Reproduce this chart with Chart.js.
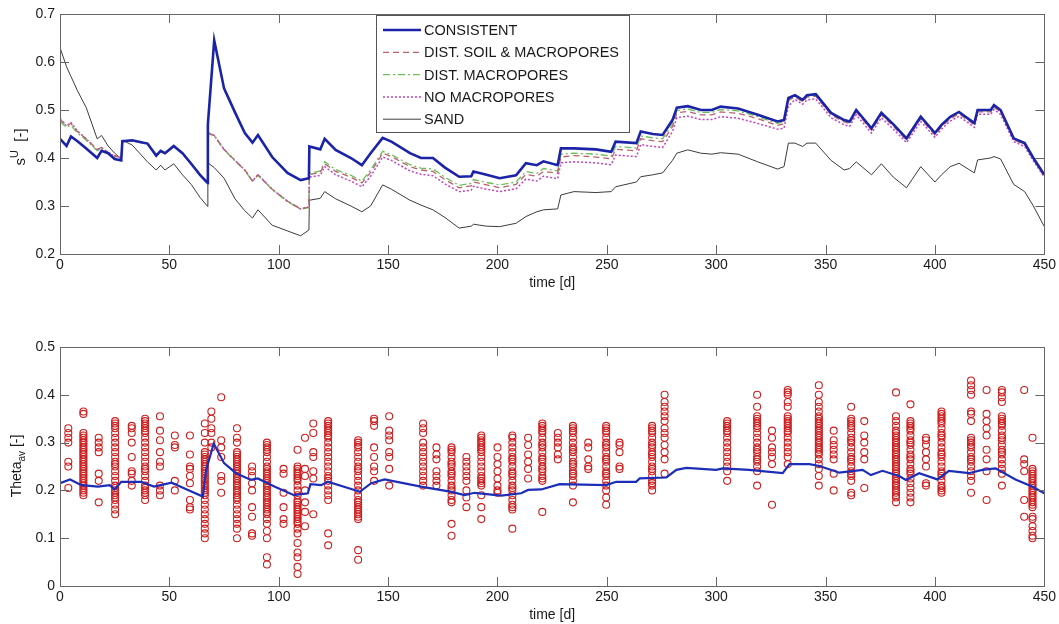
<!DOCTYPE html>
<html>
<head>
<meta charset="utf-8">
<title>Saturation and theta over time</title>
<script src="https://cdn.jsdelivr.net/npm/chart.js@4.4.1/dist/chart.umd.min.js"></script>
<style>
    html, body { margin: 0; padding: 0; background: #fff; }
    #wrap { position: relative; width: 1059px; height: 624px; }
    #top-chart { position: absolute; left: 0; top: 0; }
    #bottom-chart { position: absolute; left: 0; top: 300px; }
</style>
</head>
<body>
<div id="wrap">
    <canvas id="top-chart" width="1059" height="300"></canvas>
    <canvas id="bottom-chart" width="1059" height="324"></canvas>
</div>
<script>
// ---- top panel: s^U per scenario, all on the same day grid ----
const days = [
    0, 3, 5, 8, 12, 17, 19, 22, 25, 28,
    28.5, 33, 40, 44, 46, 48, 52, 56, 60, 64,
    67.5, 67.6, 70.5, 75, 80, 84.5, 88, 90.5, 97, 104,
    110, 113.8, 114, 119, 121, 126, 133, 138, 142, 147.5,
    151.5, 160, 165, 170.5, 176, 182.5, 188, 189, 195, 201,
    208.5, 213, 218, 221, 227.5, 229, 235, 245, 252, 254,
    263.5, 265.5, 271, 275.5, 280, 282, 287, 293, 298, 302,
    310, 319, 328, 331, 333, 336, 339.5, 341.5, 345.5, 352.5,
    358.5, 361, 364, 371, 375.5, 381, 387, 393.5, 400, 403,
    407, 411, 418, 419.5, 425.5, 427, 430, 436, 441, 445,
    450
];
const consistent = [
    0.440, 0.425, 0.445, 0.435, 0.420, 0.400, 0.415, 0.410, 0.398, 0.395,
    0.435, 0.437, 0.430, 0.405, 0.415, 0.410, 0.425, 0.410, 0.388, 0.365,
    0.348, 0.470, 0.645, 0.545, 0.495, 0.452, 0.432, 0.448, 0.402, 0.369,
    0.354, 0.358, 0.424, 0.418, 0.440, 0.417, 0.400, 0.385, 0.410, 0.442,
    0.434, 0.410, 0.400, 0.400, 0.380, 0.361, 0.362, 0.372, 0.365, 0.358,
    0.364, 0.389, 0.385, 0.393, 0.385, 0.420, 0.420, 0.418, 0.413, 0.434,
    0.431, 0.455, 0.450, 0.448, 0.479, 0.505, 0.508, 0.500, 0.500, 0.507,
    0.503, 0.490, 0.476, 0.479, 0.525, 0.531, 0.521, 0.531, 0.533, 0.494,
    0.479, 0.476, 0.500, 0.462, 0.494, 0.470, 0.441, 0.486, 0.452, 0.469,
    0.486, 0.496, 0.473, 0.500, 0.500, 0.510, 0.500, 0.441, 0.431, 0.400,
    0.365
];
const distSoil = [
    0.480, 0.468, 0.472, 0.455, 0.440, 0.418, 0.422, 0.412, 0.405, 0.400,
    0.434, 0.436, 0.429, 0.404, 0.414, 0.409, 0.424, 0.409, 0.387, 0.364,
    0.347, 0.452, 0.447, 0.418, 0.395, 0.375, 0.352, 0.365, 0.335, 0.310,
    0.294, 0.298, 0.365, 0.370, 0.388, 0.372, 0.360, 0.348, 0.370, 0.410,
    0.403, 0.382, 0.375, 0.372, 0.355, 0.338, 0.342, 0.350, 0.344, 0.338,
    0.345, 0.366, 0.362, 0.372, 0.368, 0.402, 0.405, 0.402, 0.398, 0.418,
    0.415, 0.440, 0.436, 0.434, 0.465, 0.494, 0.497, 0.490, 0.490, 0.496,
    0.493, 0.482, 0.468, 0.471, 0.520, 0.527, 0.517, 0.527, 0.529, 0.490,
    0.475, 0.472, 0.496, 0.458, 0.490, 0.466, 0.437, 0.482, 0.448, 0.465,
    0.482, 0.492, 0.469, 0.496, 0.496, 0.506, 0.496, 0.438, 0.428, 0.397,
    0.362
];
const distMacro = [
    0.476, 0.464, 0.468, 0.452, 0.437, 0.415, 0.420, 0.410, 0.403, 0.398,
    0.434, 0.436, 0.429, 0.404, 0.414, 0.409, 0.424, 0.409, 0.387, 0.364,
    0.347, 0.450, 0.446, 0.417, 0.394, 0.374, 0.351, 0.364, 0.334, 0.309,
    0.293, 0.297, 0.368, 0.373, 0.392, 0.376, 0.364, 0.352, 0.375, 0.414,
    0.407, 0.386, 0.379, 0.377, 0.360, 0.343, 0.347, 0.355, 0.349, 0.344,
    0.350, 0.372, 0.368, 0.378, 0.373, 0.408, 0.410, 0.408, 0.404, 0.424,
    0.421, 0.446, 0.442, 0.440, 0.471, 0.499, 0.502, 0.495, 0.495, 0.501,
    0.498, 0.486, 0.472, 0.475, 0.522, 0.529, 0.519, 0.529, 0.531, 0.492,
    0.477, 0.474, 0.498, 0.460, 0.492, 0.468, 0.439, 0.484, 0.450, 0.467,
    0.484, 0.494, 0.471, 0.498, 0.498, 0.508, 0.498, 0.439, 0.429, 0.398,
    0.363
];
const noMacro = [
    0.483, 0.466, 0.474, 0.456, 0.440, 0.416, 0.422, 0.411, 0.404, 0.400,
    0.434, 0.436, 0.429, 0.404, 0.414, 0.409, 0.424, 0.409, 0.387, 0.364,
    0.347, 0.453, 0.447, 0.418, 0.395, 0.375, 0.352, 0.365, 0.335, 0.310,
    0.294, 0.298, 0.360, 0.364, 0.382, 0.365, 0.352, 0.340, 0.362, 0.402,
    0.395, 0.373, 0.366, 0.363, 0.346, 0.330, 0.333, 0.341, 0.335, 0.330,
    0.336, 0.356, 0.352, 0.362, 0.357, 0.390, 0.392, 0.390, 0.386, 0.406,
    0.403, 0.428, 0.424, 0.422, 0.455, 0.484, 0.487, 0.480, 0.480, 0.486,
    0.483, 0.472, 0.460, 0.462, 0.508, 0.522, 0.512, 0.521, 0.523, 0.484,
    0.469, 0.466, 0.490, 0.452, 0.484, 0.460, 0.432, 0.476, 0.443, 0.460,
    0.477, 0.487, 0.464, 0.491, 0.491, 0.501, 0.491, 0.434, 0.424, 0.394,
    0.360
];
const sand = [
    0.630, 0.590, 0.570, 0.540, 0.505, 0.440, 0.447, 0.425, 0.410, 0.398,
    0.437, 0.427, 0.392, 0.375, 0.385, 0.375, 0.388, 0.365, 0.345, 0.318,
    0.299, 0.390, 0.380, 0.358, 0.315, 0.290, 0.275, 0.292, 0.260, 0.248,
    0.238, 0.250, 0.312, 0.316, 0.330, 0.315, 0.300, 0.288, 0.300, 0.344,
    0.335, 0.312, 0.302, 0.292, 0.276, 0.254, 0.258, 0.262, 0.258, 0.257,
    0.264, 0.278, 0.288, 0.292, 0.294, 0.323, 0.330, 0.328, 0.330, 0.340,
    0.350, 0.361, 0.365, 0.369, 0.395, 0.410, 0.417, 0.410, 0.408, 0.411,
    0.408, 0.392, 0.377, 0.382, 0.431, 0.431, 0.424, 0.431, 0.431, 0.395,
    0.375, 0.378, 0.392, 0.365, 0.388, 0.360, 0.338, 0.382, 0.350, 0.365,
    0.382, 0.389, 0.369, 0.396, 0.400, 0.403, 0.398, 0.345, 0.330, 0.300,
    0.257
];

// ---- bottom panel: modelled average theta and observed points ----
const thetaDays = [
    0, 4.6, 9.8, 17.4, 22.7, 25, 28, 37, 43, 51,
    58.5, 65.3, 66.8, 70.3, 75, 80.5, 87.3, 90.4, 98, 107,
    113.3, 114.5, 119.4, 122.4, 134.6, 137, 142.3, 148.4, 165, 179,
    185, 189.5, 201.7, 210.8, 214, 220, 228.4, 249.7, 254.3, 263.4,
    265, 277.2, 281.8, 286.3, 300, 303, 315, 330.4, 333.5, 342.6,
    347.2, 356.3, 366.9, 370.7, 376, 383.6, 386.7, 392.8, 401.1, 406.4,
    415.5, 421.6, 427.7, 436.8, 444.4, 450
];
const thetaAvg = [
    0.215, 0.223, 0.211, 0.208, 0.211, 0.202, 0.218, 0.218, 0.208, 0.216,
    0.201, 0.187, 0.243, 0.298, 0.257, 0.236, 0.222, 0.225, 0.208, 0.190,
    0.194, 0.213, 0.211, 0.218, 0.201, 0.197, 0.215, 0.223, 0.208, 0.197,
    0.190, 0.195, 0.189, 0.194, 0.201, 0.202, 0.213, 0.211, 0.218, 0.218,
    0.225, 0.227, 0.243, 0.247, 0.243, 0.246, 0.243, 0.236, 0.255, 0.255,
    0.251, 0.237, 0.243, 0.232, 0.241, 0.230, 0.222, 0.236, 0.223, 0.241,
    0.236, 0.243, 0.246, 0.223, 0.208, 0.194
];
const obsDays = [
    3.8, 10.7, 17.7, 25.2, 32.8, 38.9, 45.7, 52.5, 59.4, 66.2,
    69.2, 73.7, 80.9, 87.8, 94.6, 102.2, 108.6, 112, 115.8, 122.6,
    136.3, 143.6, 150.5, 166, 172.1, 179, 185.8, 192.6, 200, 206.8,
    214, 220.5, 227.6, 234.5, 241.5, 249.7, 255.8, 270.7, 276.4, 305,
    318.7, 325.5, 332.7, 346.9, 353.7, 361.7, 367.7, 382.2, 388.8, 395.9,
    403, 416.5, 423.6, 430.6, 440.8, 444.6
];
const obsVals = [
    [0.33, 0.32, 0.31, 0.30, 0.26, 0.25, 0.205],
    [0.365, 0.36, 0.32, 0.315, 0.31, 0.305, 0.30, 0.295, 0.29, 0.285, 0.28, 0.275, 0.27, 0.265, 0.26, 0.255, 0.25, 0.245, 0.24, 0.235, 0.23, 0.225, 0.22, 0.215, 0.21, 0.205, 0.20, 0.195, 0.19],
    [0.31, 0.30, 0.29, 0.28, 0.235, 0.22, 0.175],
    [0.345, 0.34, 0.335, 0.33, 0.32, 0.31, 0.30, 0.29, 0.28, 0.27, 0.26, 0.255, 0.25, 0.24, 0.23, 0.22, 0.21, 0.205, 0.20, 0.195, 0.19, 0.185, 0.18, 0.17, 0.16, 0.15],
    [0.335, 0.33, 0.32, 0.30, 0.27, 0.24, 0.235, 0.22, 0.21],
    [0.35, 0.345, 0.34, 0.335, 0.33, 0.325, 0.32, 0.31, 0.30, 0.29, 0.28, 0.27, 0.26, 0.25, 0.245, 0.24, 0.23, 0.22, 0.21, 0.205, 0.20, 0.195, 0.19, 0.18],
    [0.355, 0.325, 0.305, 0.28, 0.26, 0.25, 0.21, 0.20, 0.19],
    [0.315, 0.295, 0.29, 0.22, 0.20],
    [0.315, 0.275, 0.25, 0.245, 0.23, 0.215, 0.18, 0.165, 0.16],
    [0.34, 0.32, 0.30, 0.28, 0.275, 0.27, 0.265, 0.26, 0.255, 0.25, 0.245, 0.24, 0.235, 0.23, 0.225, 0.22, 0.215, 0.21, 0.205, 0.20, 0.195, 0.19, 0.18, 0.17, 0.16, 0.15, 0.14, 0.13, 0.12, 0.11, 0.10],
    [0.365, 0.35, 0.33, 0.32, 0.30, 0.29],
    [0.395, 0.305, 0.29, 0.27, 0.23, 0.22, 0.195],
    [0.33, 0.31, 0.30, 0.28, 0.275, 0.27, 0.265, 0.26, 0.255, 0.25, 0.245, 0.24, 0.235, 0.23, 0.225, 0.22, 0.215, 0.21, 0.205, 0.20, 0.195, 0.19, 0.185, 0.18, 0.17, 0.16, 0.15, 0.14, 0.13, 0.12, 0.10],
    [0.25, 0.24, 0.23, 0.215, 0.20, 0.165, 0.145, 0.11, 0.105],
    [0.30, 0.295, 0.29, 0.285, 0.28, 0.27, 0.26, 0.25, 0.245, 0.24, 0.235, 0.23, 0.225, 0.22, 0.215, 0.21, 0.205, 0.20, 0.195, 0.19, 0.185, 0.18, 0.175, 0.17, 0.165, 0.16, 0.155, 0.15, 0.14, 0.13, 0.115, 0.10, 0.06, 0.045],
    [0.245, 0.235, 0.195, 0.165, 0.14, 0.13],
    [0.285, 0.25, 0.245, 0.24, 0.235, 0.23, 0.225, 0.22, 0.21, 0.20, 0.19, 0.18, 0.175, 0.17, 0.165, 0.16, 0.155, 0.15, 0.145, 0.14, 0.135, 0.13, 0.12, 0.11, 0.09, 0.07, 0.06, 0.04, 0.025],
    [0.31, 0.245, 0.23, 0.20, 0.175, 0.155, 0.125],
    [0.34, 0.32, 0.28, 0.27, 0.24, 0.225, 0.15],
    [0.345, 0.34, 0.335, 0.33, 0.325, 0.32, 0.315, 0.31, 0.30, 0.29, 0.28, 0.27, 0.26, 0.25, 0.24, 0.23, 0.225, 0.22, 0.21, 0.20, 0.19, 0.18, 0.11, 0.085],
    [0.305, 0.30, 0.295, 0.29, 0.28, 0.27, 0.26, 0.25, 0.245, 0.24, 0.23, 0.22, 0.21, 0.20, 0.19, 0.18, 0.175, 0.17, 0.165, 0.16, 0.155, 0.15, 0.145, 0.14, 0.075, 0.055],
    [0.35, 0.345, 0.335, 0.29, 0.27, 0.25, 0.24, 0.22],
    [0.355, 0.325, 0.315, 0.305, 0.28, 0.27, 0.245, 0.21],
    [0.34, 0.33, 0.32, 0.30, 0.29, 0.28, 0.27, 0.26, 0.25, 0.24, 0.23, 0.22, 0.21],
    [0.29, 0.275, 0.265, 0.24, 0.23, 0.22, 0.21],
    [0.29, 0.285, 0.28, 0.27, 0.26, 0.255, 0.25, 0.24, 0.235, 0.23, 0.22, 0.21, 0.205, 0.20, 0.19, 0.18, 0.175, 0.13, 0.105],
    [0.27, 0.26, 0.25, 0.24, 0.23, 0.22, 0.20, 0.185, 0.165],
    [0.315, 0.31, 0.305, 0.30, 0.295, 0.29, 0.285, 0.28, 0.27, 0.26, 0.25, 0.24, 0.23, 0.225, 0.22, 0.215, 0.21, 0.19, 0.165, 0.14],
    [0.29, 0.27, 0.255, 0.24, 0.225, 0.21, 0.20, 0.195],
    [0.315, 0.31, 0.30, 0.29, 0.28, 0.27, 0.265, 0.26, 0.25, 0.24, 0.235, 0.23, 0.22, 0.21, 0.205, 0.20, 0.19, 0.18, 0.17, 0.165, 0.16, 0.12],
    [0.31, 0.295, 0.275, 0.26, 0.245, 0.225],
    [0.34, 0.335, 0.33, 0.325, 0.32, 0.31, 0.30, 0.295, 0.29, 0.28, 0.27, 0.265, 0.26, 0.25, 0.245, 0.24, 0.23, 0.225, 0.22, 0.155],
    [0.32, 0.31, 0.30, 0.29, 0.275, 0.265],
    [0.335, 0.33, 0.325, 0.32, 0.31, 0.30, 0.29, 0.285, 0.28, 0.27, 0.26, 0.255, 0.25, 0.24, 0.235, 0.23, 0.22, 0.21, 0.175],
    [0.30, 0.29, 0.265, 0.25, 0.245],
    [0.335, 0.33, 0.325, 0.32, 0.31, 0.30, 0.295, 0.29, 0.28, 0.27, 0.265, 0.26, 0.25, 0.24, 0.235, 0.23, 0.22, 0.21, 0.20, 0.185, 0.17],
    [0.30, 0.295, 0.28, 0.25, 0.245],
    [0.335, 0.33, 0.325, 0.32, 0.31, 0.30, 0.295, 0.29, 0.28, 0.275, 0.27, 0.26, 0.25, 0.245, 0.24, 0.23, 0.22, 0.215, 0.21, 0.20],
    [0.40, 0.385, 0.375, 0.365, 0.355, 0.345, 0.33, 0.32, 0.31, 0.295, 0.28, 0.265, 0.235],
    [0.345, 0.34, 0.335, 0.33, 0.325, 0.32, 0.31, 0.30, 0.29, 0.28, 0.27, 0.26, 0.25, 0.24, 0.22],
    [0.40, 0.375, 0.355, 0.35, 0.345, 0.34, 0.335, 0.33, 0.32, 0.31, 0.30, 0.29, 0.285, 0.28, 0.27, 0.265, 0.26, 0.25, 0.24, 0.21],
    [0.325, 0.31, 0.29, 0.28, 0.27, 0.255, 0.17],
    [0.41, 0.405, 0.40, 0.385, 0.375, 0.355, 0.35, 0.345, 0.34, 0.335, 0.33, 0.325, 0.32, 0.31, 0.30, 0.29, 0.28, 0.27, 0.255],
    [0.42, 0.40, 0.385, 0.375, 0.365, 0.355, 0.35, 0.345, 0.34, 0.335, 0.33, 0.325, 0.32, 0.315, 0.31, 0.305, 0.30, 0.295, 0.29, 0.285, 0.28, 0.275, 0.265, 0.255, 0.245, 0.23, 0.21],
    [0.325, 0.305, 0.295, 0.285, 0.275, 0.265, 0.235, 0.20],
    [0.375, 0.35, 0.345, 0.34, 0.335, 0.33, 0.32, 0.31, 0.305, 0.30, 0.29, 0.28, 0.27, 0.265, 0.26, 0.25, 0.24, 0.235, 0.23, 0.22, 0.195, 0.19],
    [0.345, 0.315, 0.30, 0.28, 0.265, 0.205],
    [0.405, 0.355, 0.345, 0.335, 0.325, 0.32, 0.315, 0.31, 0.305, 0.30, 0.295, 0.29, 0.285, 0.28, 0.275, 0.27, 0.265, 0.26, 0.255, 0.25, 0.245, 0.24, 0.235, 0.23, 0.225, 0.22, 0.215, 0.21, 0.205, 0.20, 0.195, 0.19, 0.185, 0.175],
    [0.38, 0.345, 0.34, 0.335, 0.33, 0.325, 0.315, 0.305, 0.30, 0.295, 0.285, 0.275, 0.27, 0.265, 0.255, 0.245, 0.24, 0.235, 0.225, 0.215, 0.205, 0.195, 0.185, 0.175],
    [0.31, 0.305, 0.295, 0.28, 0.265, 0.25, 0.215, 0.21],
    [0.365, 0.36, 0.355, 0.35, 0.345, 0.34, 0.33, 0.32, 0.315, 0.31, 0.30, 0.29, 0.28, 0.275, 0.27, 0.26, 0.25, 0.24, 0.235, 0.23, 0.22, 0.21, 0.205, 0.20, 0.195],
    [0.43, 0.42, 0.41, 0.40, 0.365, 0.36, 0.345, 0.31, 0.305, 0.30, 0.295, 0.29, 0.28, 0.27, 0.265, 0.26, 0.25, 0.24, 0.23, 0.22, 0.195],
    [0.41, 0.36, 0.345, 0.33, 0.315, 0.285, 0.265, 0.24, 0.18],
    [0.41, 0.405, 0.395, 0.385, 0.355, 0.35, 0.345, 0.34, 0.335, 0.325, 0.315, 0.31, 0.305, 0.295, 0.285, 0.28, 0.275, 0.265, 0.255, 0.245, 0.235, 0.21],
    [0.41, 0.265, 0.255, 0.24, 0.18, 0.145],
    [0.31, 0.245, 0.24, 0.235, 0.23, 0.225, 0.22, 0.215, 0.21, 0.205, 0.20, 0.195, 0.19, 0.185, 0.18, 0.175, 0.17, 0.165, 0.145, 0.14, 0.125, 0.115, 0.105, 0.10]
];

// tick labels
const xTicks = [0, 50, 100, 150, 200, 250, 300, 350, 400, 450];
const topYTicks = [0.2, 0.3, 0.4, 0.5, 0.6, 0.7];
const bottomYTicks = [0, 0.1, 0.2, 0.3, 0.4, 0.5];

const FONT = '"Liberation Sans", Arial, sans-serif';
const INK = '#1a1a1a';

const pts = (xs, ys) => xs.map((x, i) => ({ x: x, y: ys[i] }));

/**
 * Rotated axis title with a super- or subscript part
 */
function drawScriptTitle(ctx, t) {
    const big = t.size + 'px ' + FONT;
    const small = Math.round(t.size * 0.72) + 'px ' + FONT;
    ctx.font = big;
    const w1 = ctx.measureText(t.main).width;
    const w3 = ctx.measureText(t.rest).width;
    ctx.font = small;
    const w2 = ctx.measureText(t.script).width;
    let p = -(w1 + w2 + w3) / 2;

    ctx.save();
    ctx.translate(t.x, t.y);
    ctx.rotate(-Math.PI / 2);
    ctx.textAlign = 'left';
    ctx.textBaseline = 'alphabetic';
    ctx.fillStyle = INK;
    ctx.font = big;
    ctx.fillText(t.main, p, 0);
    p += w1;
    ctx.font = small;
    ctx.fillText(t.script, p, t.shift);
    p += w2;
    ctx.font = big;
    ctx.fillText(t.rest, p, 0);
    ctx.restore();
}

/**
 * Box, inward ticks on all sides, axis titles (matlab look)
 */
const matlabFrame = {
    id: 'matlabFrame',
    afterDraw: function(chart, args, opts) {
        const ctx = chart.ctx;
        const a = chart.chartArea;
        const x = chart.scales.x;
        const y = chart.scales.y;
        const len = 9;

        ctx.save();
        ctx.strokeStyle = '#666';
        ctx.lineWidth = 1;
        ctx.beginPath();
        x.ticks.forEach(t => {
            const px = Math.round(x.getPixelForValue(t.value)) + 0.5;
            ctx.moveTo(px, a.bottom);
            ctx.lineTo(px, a.bottom - len);
            ctx.moveTo(px, a.top);
            ctx.lineTo(px, a.top + len);
        });
        y.ticks.forEach(t => {
            const py = Math.round(y.getPixelForValue(t.value)) + 0.5;
            ctx.moveTo(a.left, py);
            ctx.lineTo(a.left + len, py);
            ctx.moveTo(a.right, py);
            ctx.lineTo(a.right - len, py);
        });
        ctx.stroke();
        ctx.strokeRect(Math.round(a.left) + 0.5, Math.round(a.top) + 0.5,
                       Math.round(a.width), Math.round(a.height));

        ctx.fillStyle = INK;
        ctx.font = '14px ' + FONT;
        ctx.textAlign = 'center';
        ctx.textBaseline = 'middle';
        ctx.fillText(opts.xTitle, (a.left + a.right) / 2, a.bottom + 29);
        ctx.restore();

        drawScriptTitle(ctx, opts.yTitle);
    }
};

/**
 * Boxed legend inside the top panel
 */
const boxLegend = {
    id: 'boxLegend',
    afterDraw: function(chart, args, opts) {
        if (!opts.show) return;
        const ctx = chart.ctx;
        const b = opts.box;

        ctx.save();
        ctx.fillStyle = '#fff';
        ctx.fillRect(b.left, b.top, b.width, b.height);
        ctx.strokeStyle = '#555';
        ctx.lineWidth = 1;
        ctx.strokeRect(b.left + 0.5, b.top + 0.5, b.width, b.height);

        ctx.font = '14.5px ' + FONT;
        ctx.textAlign = 'left';
        ctx.textBaseline = 'middle';
        chart.data.datasets.forEach((ds, i) => {
            const yy = b.top + 15 + i * 22.3;
            ctx.strokeStyle = ds.borderColor;
            ctx.lineWidth = ds.borderWidth;
            ctx.setLineDash(ds.borderDash || []);
            ctx.beginPath();
            ctx.moveTo(b.left + 7, yy);
            ctx.lineTo(b.left + 45, yy);
            ctx.stroke();
            ctx.setLineDash([]);
            ctx.fillStyle = INK;
            ctx.fillText(ds.label, b.left + 48, yy + 1);
        });
        ctx.restore();
    }
};

function axes(yTicks, xHeight) {
    return {
        x: {
            type: 'linear',
            min: 0,
            max: 450,
            afterBuildTicks: s => { s.ticks = xTicks.map(v => ({ value: v })); },
            afterFit: s => { s.height = xHeight; },
            ticks: { color: INK, padding: 3, maxRotation: 0, callback: v => String(v) },
            grid: { display: false, drawTicks: false },
            border: { display: false }
        },
        y: {
            min: yTicks[0],
            max: yTicks[yTicks.length - 1],
            afterBuildTicks: s => { s.ticks = yTicks.map(v => ({ value: v })); },
            afterFit: s => { s.width = 60; },
            ticks: { color: INK, padding: 5, callback: v => String(v) },
            grid: { display: false, drawTicks: false },
            border: { display: false }
        }
    };
}

Chart.defaults.font.family = FONT;
Chart.defaults.font.size = 14;
Chart.defaults.animation = false;
Chart.defaults.responsive = false;
Chart.defaults.events = [];

const lineStyle = { pointRadius: 0, tension: 0, fill: false };

new Chart(document.getElementById('top-chart'), {
    type: 'line',
    data: {
        datasets: [
            Object.assign({ label: 'CONSISTENT', data: pts(days, consistent),
                borderColor: '#1b24a8', borderWidth: 2.6 }, lineStyle),
            Object.assign({ label: 'DIST. SOIL & MACROPORES', data: pts(days, distSoil),
                borderColor: '#b8626c', borderWidth: 1.3, borderDash: [6, 4] }, lineStyle),
            Object.assign({ label: 'DIST. MACROPORES', data: pts(days, distMacro),
                borderColor: '#6cbf58', borderWidth: 1.3, borderDash: [7, 3, 2, 3] }, lineStyle),
            Object.assign({ label: 'NO MACROPORES', data: pts(days, noMacro),
                borderColor: '#c640c6', borderWidth: 1.5, borderDash: [2, 2] }, lineStyle),
            Object.assign({ label: 'SAND', data: pts(days, sand),
                borderColor: '#3c3c3c', borderWidth: 1 }, lineStyle)
        ]
    },
    options: {
        layout: { padding: { top: 14, right: 14, left: 0, bottom: 0 } },
        scales: axes(topYTicks, 46),
        plugins: {
            legend: { display: false },
            tooltip: { enabled: false },
            matlabFrame: {
                xTitle: 'time [d]',
                yTitle: { main: 's', script: 'U', rest: '  [-]', size: 15, shift: -7, x: 25, y: 147 }
            },
            boxLegend: { show: true, box: { left: 376, top: 15, width: 253, height: 117 } }
        }
    },
    plugins: [matlabFrame, boxLegend]
});

const obsPoints = obsDays.flatMap((d, i) => obsVals[i].map(v => ({ x: d, y: v })));

new Chart(document.getElementById('bottom-chart'), {
    type: 'line',
    data: {
        datasets: [
            Object.assign({ label: 'Theta_av', data: pts(thetaDays, thetaAvg),
                borderColor: '#1c2db8', borderWidth: 2.2 }, lineStyle),
            {
                label: 'observed',
                data: obsPoints,
                showLine: false,
                pointStyle: 'circle',
                pointRadius: 3.5,
                pointBorderWidth: 1.1,
                pointBorderColor: '#cc1f1f',
                pointBackgroundColor: 'rgba(0,0,0,0)'
            }
        ]
    },
    options: {
        layout: { padding: { top: 47, right: 14, left: 0, bottom: 0 } },
        scales: axes(bottomYTicks, 38),
        plugins: {
            legend: { display: false },
            tooltip: { enabled: false },
            matlabFrame: {
                xTitle: 'time [d]',
                yTitle: { main: 'Theta', script: 'av', rest: ' [-]', size: 14, shift: 4, x: 21, y: 166 }
            },
            boxLegend: { show: false }
        }
    },
    plugins: [matlabFrame, boxLegend]
});
</script>
</body>
</html>
